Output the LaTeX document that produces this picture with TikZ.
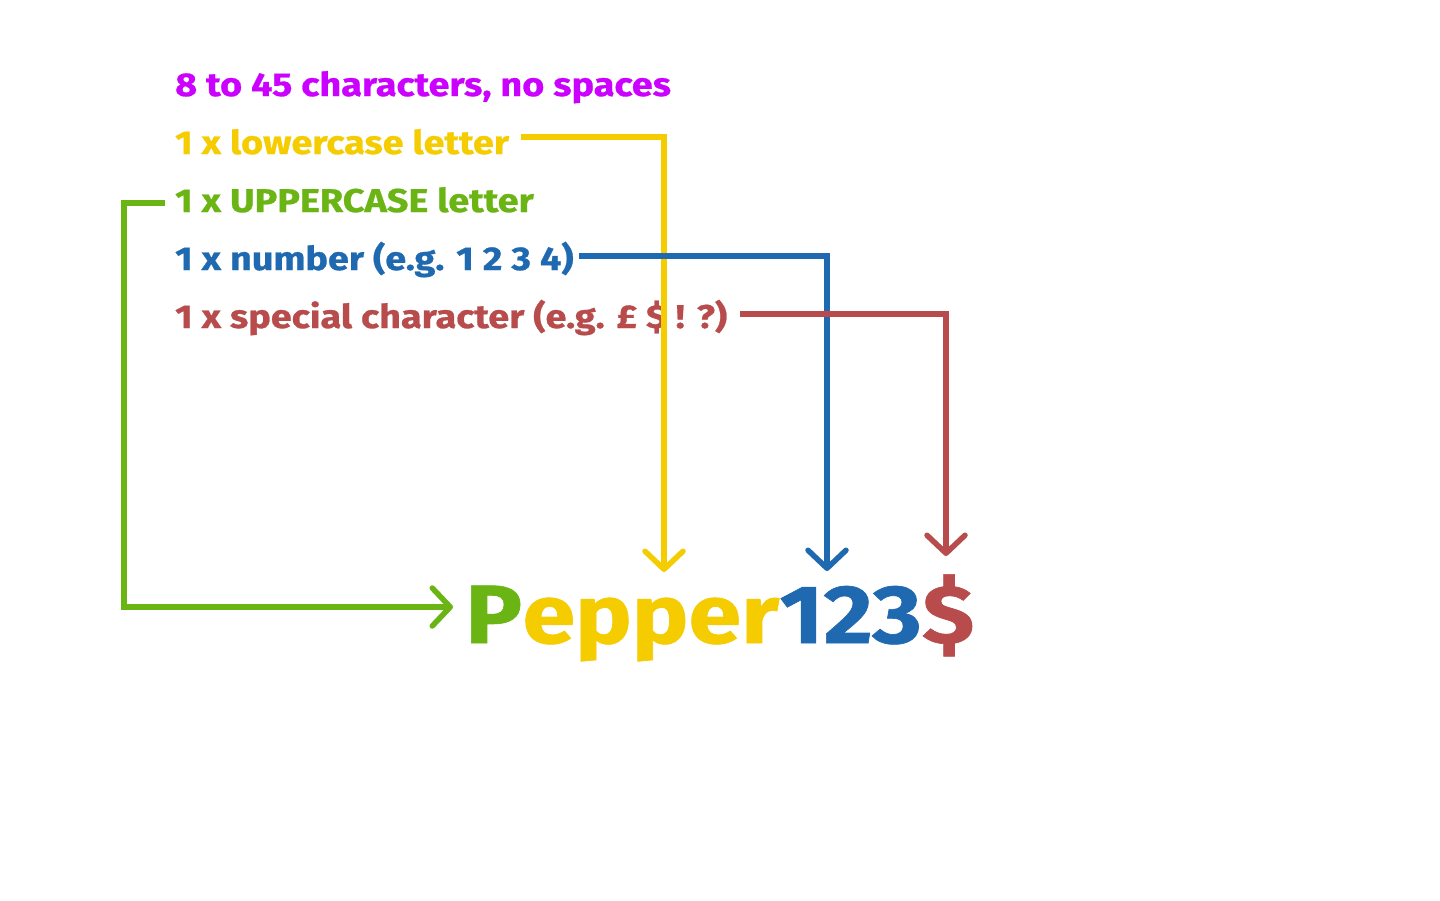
\documentclass[tikz,border=0pt]{standalone}
\usepackage{fontspec}
\setmainfont{Fira Sans}[FakeStretch=1.15, BoldFeatures={FakeBold=0.8}]
\usetikzlibrary{arrows.meta,calc}
\definecolor{cpurple}{RGB}{204,0,255}
\definecolor{cyellow}{RGB}{244,204,0}
\definecolor{cgreen}{RGB}{106,180,20}
\definecolor{cblue}{RGB}{31,105,176}
\definecolor{cred}{RGB}{184,76,76}
\newlength\reflen
\newlength\reflenb
\begin{document}
\settowidth\reflen{\fontsize{10pt}{12pt}\selectfont\bfseries 1 x special character (e.g. £ \$ ! ?)}%
\settowidth\reflenb{\fontsize{10pt}{12pt}\selectfont\bfseries Pepper123\$}%
\pgfmathsetmacro\labsz{10*552/\reflen}%
\pgfmathsetmacro\bigsz{10*506/\reflenb}%
\begin{tikzpicture}[x=1pt,y=-1pt]
\tikzset{
  lab/.style={font=\fontsize{\labsz pt}{\labsz pt}\selectfont\bfseries, inner sep=0pt, anchor=base west},
  big/.style={font=\fontsize{\bigsz pt}{\bigsz pt}\selectfont\bfseries, inner sep=0pt, anchor=base west},
  conn/.style={line width=5.5pt, -{Straight Barb[length=18pt,width=38pt,round]}},
}
\useasboundingbox (0,0) rectangle (1440,900);
\fill[white] (0,0) rectangle (1440,900);

\node[lab, text=cpurple] (l1) at (175,96) {8 to 45 characters, no spaces};
\node[lab, text=cyellow] (l2) at (175,154) {1 x lowercase letter};
\node[lab, text=cgreen]  (l3) at (175,212) {1 x UPPERCASE letter};
\node[lab, text=cblue]   (l4) at (175,270) {1 x number (e.g. 1 2 3 4)};
\node[lab, text=cred]    (l5) at (175,328) {1 x special character (e.g. £ \$ ! ?)};

\node[big, text=cgreen]  (w1) at (465,643) {P};
\node[big, text=cyellow] (w2) at (w1.base east) {epper};
\node[big, text=cblue]   (w3) at (w2.base east) {123};
\node[big, text=cred]    (w4) at (w3.base east) {\$};

\coordinate (ytip) at (664,572);
\coordinate (btip) at (827,571);
\coordinate (rtip) at (946,556);
\coordinate (gtip) at (453,607);

\draw[conn, cyellow] let \p1=(l2.base east) in (\x1+12,137) -| (ytip);
\draw[conn, cblue]   let \p1=(l4.base east) in (\x1+5,256) -| (btip);
\draw[conn, cred]    let \p1=(l5.base east) in (\x1+13,314) -| (rtip);
\draw[conn, cgreen]  let \p1=(l3.base west) in (\x1-10,203) -- (124,203) |- (gtip);
\end{tikzpicture}
\end{document}
